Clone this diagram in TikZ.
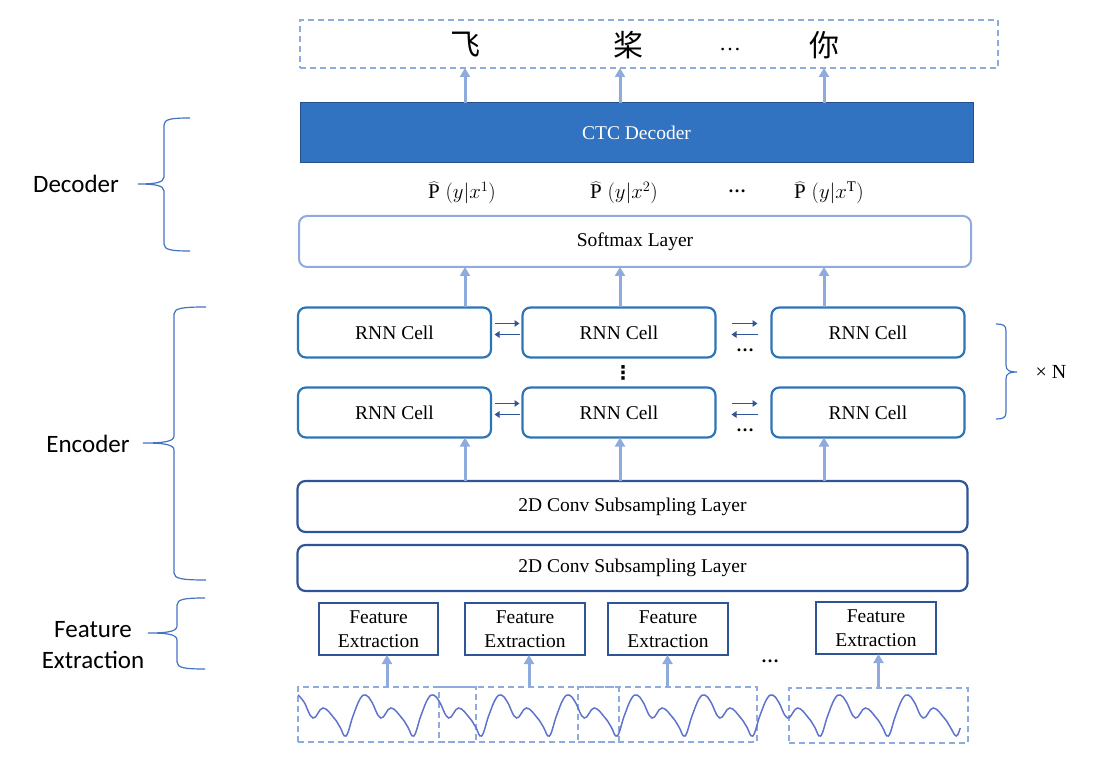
\documentclass[tikz,border=0pt]{standalone}
\usepackage{fontspec}
\usepackage{graphicx}
\setmainfont{Liberation Serif}
\newfontfamily\cjkfont{Noto Sans CJK SC}
\newfontfamily\califont{Carlito}
\newfontfamily\dejafont{DejaVu Sans}
\usetikzlibrary{arrows.meta,calc}
\definecolor{lblue}{RGB}{143,170,220}
\definecolor{rnnblue}{RGB}{46,117,182}
\definecolor{dblue}{RGB}{47,85,151}
\definecolor{ctcfill}{RGB}{49,115,192}
\definecolor{ctcdraw}{RGB}{38,80,140}
\definecolor{brblue}{RGB}{68,114,196}
\definecolor{wavec}{RGB}{95,115,205}
\newcommand{\mybrace}[6]{% xe, xv, xt, yt, ym, yb
  \draw[bracestyle] (#1,#4) .. controls ({#2+0.3*(#1-#2)},#4) and (#2,{#4+1}) .. (#2,{#4+7})
    -- (#2,{#5-7}) .. controls (#2,{#5-1}) and ({#2+0.4*(#3-#2)},#5) .. (#3,#5)
    .. controls ({#2+0.4*(#3-#2)},#5) and (#2,{#5+1}) .. (#2,{#5+7})
    -- (#2,{#6-7}) .. controls (#2,{#6-1}) and ({#2+0.3*(#1-#2)},#6) .. (#1,#6);}
\begin{document}
\begin{tikzpicture}[x=1pt,y=-1pt,
  every node/.style={inner sep=0pt, outer sep=0pt},
  outbox/.style={draw=lblue, dash pattern=on 6pt off 4pt, line width=1.6pt, minimum width=698pt, minimum height=48pt},
  ctcbox/.style={fill=ctcfill, draw=ctcdraw, line width=1pt, text=white, minimum width=673pt, minimum height=60pt, font=\fontsize{19.5}{22}\selectfont},
  softbox/.style={draw=lblue, line width=2pt, rounded corners=8pt, minimum width=672pt, minimum height=51pt, font=\fontsize{19.5}{22}\selectfont},
  rnnbox/.style={draw=rnnblue, line width=2.2pt, rounded corners=8pt, minimum width=193pt, minimum height=50pt, font=\fontsize{19.5}{22}\selectfont},
  convbox/.style={draw=dblue, line width=2.2pt, rounded corners=8pt, minimum width=670pt, font=\fontsize{19.5}{22}\selectfont},
  febox/.style={draw=dblue, line width=2.2pt, minimum width=119pt, minimum height=52pt, align=center, font=\fontsize{19.5}{23.5}\selectfont},
  framebox/.style={draw=lblue, dash pattern=on 6pt off 4pt, line width=1.6pt, minimum width=178pt, minimum height=55pt},
  arr/.style={draw=lblue, line width=3pt, -{Triangle[width=10pt,length=9pt]}},
  darr/.style={draw=dblue, line width=1.8pt, -{Triangle[width=6.5pt,length=5pt]}},
  bracestyle/.style={draw=brblue, line width=1.2pt},
  wave/.style={draw=wavec, line width=1.5pt},
  side/.style={font=\califont\fontsize{25}{31}\selectfont, align=center},
  prob/.style={font=\fontsize{21}{23}\selectfont},
  bdots/.style={font=\bfseries\fontsize{18}{20}\selectfont}
]
\useasboundingbox (0,0) rectangle (1093,759);

% column coordinates
\coordinate (c1) at (465,0);
\coordinate (c2) at (620,0);
\coordinate (c3) at (824,0);

% output
\node[outbox] (out) at (649,44) {};
\node[font=\cjkfont\fontsize{30}{32}\selectfont] (o1) at (465,45) {飞};
\node[font=\cjkfont\fontsize{30}{32}\selectfont] (o2) at (628,45) {桨};
\node[font=\fontsize{22}{24}\selectfont] (o3) at (730,50) {…};
\node[font=\cjkfont\fontsize{30}{32}\selectfont] (o4) at (824,45) {你};

% CTC decoder
\node[ctcbox] (ctc) at (636.5,133) {CTC Decoder};
\foreach \c in {c1,c2,c3} \draw[arr] (\c |- ctc.north) -- (\c |- out.south);

% probabilities
\node[prob] (p1) at (462,193) {$\widehat{\mathrm{P}}\;(y|x^{1})$};
\node[prob] (p2) at (624,193) {$\widehat{\mathrm{P}}\;(y|x^{2})$};
\node[bdots] (p3) at (737,191) {…};
\node[prob] (p4) at (829,193) {$\widehat{\mathrm{P}}\;(y|x^{\mathrm{T}})$};

% softmax
\node[softbox] (soft) at (635,241.5) {Softmax Layer};

% RNN cells
\node[rnnbox] (r11) at (394.5,332.5) {RNN Cell};
\node[rnnbox] (r12) at (619,332.5) {RNN Cell};
\node[rnnbox] (r13) at (868,332.5) {RNN Cell};
\node[rnnbox] (r21) at (394.5,412.5) {RNN Cell};
\node[rnnbox] (r22) at (619,412.5) {RNN Cell};
\node[rnnbox] (r23) at (868,412.5) {RNN Cell};

\foreach \c in {c1,c2,c3} \draw[arr] (\c |- r11.north) -- (\c |- soft.south);

% bidirectional arrows
\foreach \a/\b in {r11/r12,r21/r22}{
  \draw[darr] ([xshift=3.5pt,yshift=9pt]\a.east) -- ([xshift=-3pt,yshift=9pt]\b.west);
  \draw[darr] ([xshift=-3pt,yshift=-2pt]\b.west) -- ([xshift=3.5pt,yshift=-2pt]\a.east);
}
\foreach \a/\b in {r12/r13,r22/r23}{
  \draw[darr] ([xshift=16pt,yshift=9pt]\a.east) -- ([xshift=-14pt,yshift=9pt]\b.west);
  \draw[darr] ([xshift=-14pt,yshift=-2pt]\b.west) -- ([xshift=16pt,yshift=-2pt]\a.east);
}
\node[bdots] (d1) at (745,350) {…};
\node[bdots] (d2) at (745,430) {…};
\node[font=\dejafont\bfseries\fontsize{19}{21}\selectfont] (vd) at (623,373) {⋮};

% right brace
\draw[bracestyle] (996,324) .. controls (1003,324) and (1006,325) .. (1006,331)
  -- (1006,365) .. controls (1006,371) and (1010,372) .. (1017,372)
  .. controls (1010,372) and (1006,373) .. (1006,379)
  -- (1006,412) .. controls (1006,418) and (1003,419) .. (996,419);
\node[font=\fontsize{20}{22}\selectfont] (xn) at (1051,372) {× N};

% conv layers
\node[convbox, minimum height=51pt] (conv1) at (632.5,506.5) {2D Conv Subsampling Layer};
\node[convbox, minimum height=46pt] (conv2) at (632.5,568) {2D Conv Subsampling Layer};
\foreach \c in {c1,c2,c3} \draw[arr] (\c |- conv1.north) -- (\c |- r21.south);

% feature extraction
\node[febox] (fe1) at (378.5,629) {Feature\\Extraction};
\node[febox, minimum width=120pt] (fe2) at (525,629) {Feature\\Extraction};
\node[febox, minimum width=120pt] (fe3) at (668,629) {Feature\\Extraction};
\node[febox, minimum width=120pt] (fe4) at (876,628) {Feature\\Extraction};
\node[bdots] (d3) at (770,661) {…};

% frames
\node[framebox] (f1) at (387,714.5) {};
\node[framebox, minimum width=180pt] (f2) at (529,714.5) {};
\node[framebox, minimum width=179pt] (f3) at (667.5,714.5) {};
\node[framebox, minimum width=179pt] (f4) at (878.5,715.5) {};
\foreach \f/\e in {f1/fe1,f2/fe2,f3/fe3,f4/fe4} \draw[arr] (\f.north) -- (\f.north |- \e.south);

% waveform
\def\wavepts{}
\foreach \i in {0,...,8}{
  \pgfmathsetmacro\xa{298+\i*67.8}
  \xdef\wavepts{\wavepts (\xa,695) (\xa+6,702) (\xa+15,718) (\xa+25,708) (\xa+36,718) (\xa+42,727) (\xa+48,736) (\xa+55,716) (\xa+62,699)}
}
\pgfmathsetmacro\xa{298+9*67.8}
\xdef\wavepts{\wavepts (\xa,695) (\xa+6,702) (\xa+15,718) (\xa+25,708) (\xa+36,718) (\xa+42,727) (\xa+48,736) (\xa+52,728)}
\edef\drawwave{\noexpand\draw[wave] plot[smooth, tension=0.7] coordinates {\wavepts};}
\drawwave

% left braces and labels
\mybrace{190}{164}{138}{118}{184}{251}
\node[side] (ldec) at (76,184) {Decoder};
\mybrace{206}{174}{143}{307}{443}{580}
\node[side] (lenc) at (88,444) {Encoder};
\mybrace{205}{177}{148}{598}{633}{669}
\node[side] (lfe) at (93,645) {Feature\\Extraction};
\end{tikzpicture}
\end{document}
